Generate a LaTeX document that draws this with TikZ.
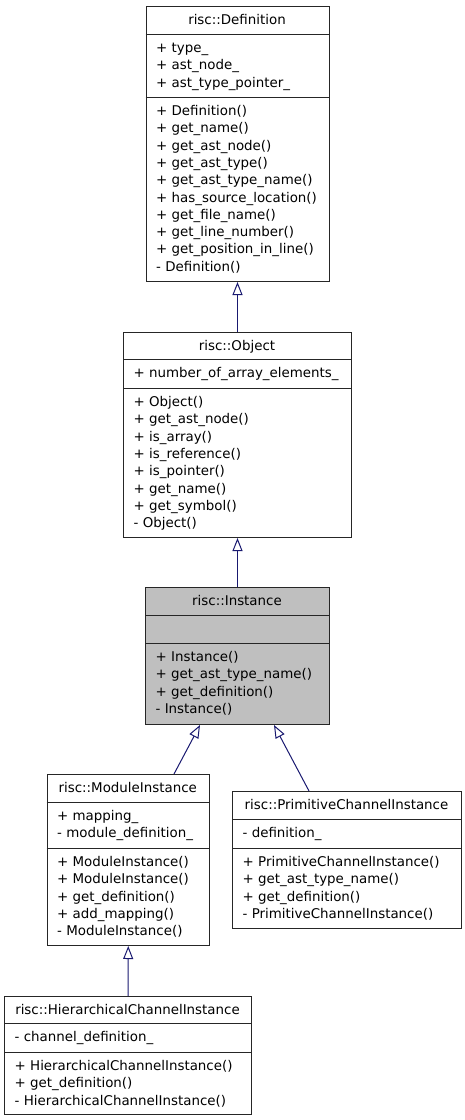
\documentclass[tikz,border=0pt]{standalone}
\usepackage{fontspec}
\setmainfont{DejaVu Sans}
\usetikzlibrary{arrows.meta,calc}
\definecolor{edgeblue}{HTML}{191970}
\definecolor{boxgray}{HTML}{BFBFBF}
% #1 name prefix, #2 x, #3 section top y, #4 list of rows
\newcommand{\umlrows}[4]{\foreach \t [count=\i from 0] in {#4} {\node[row] (#1-\i) at (#2, #3+18.5+17.3*\i) {\t};}}
\begin{document}
\begin{tikzpicture}[x=1pt,y=-1pt,
  font=\fontsize{13.4}{17.4}\selectfont,
  box/.style={draw=black!85, line width=1pt, inner sep=0pt, anchor=north west},
  divider/.style={draw=black!85, line width=1pt},
  row/.style={anchor=base west, inner sep=0pt},
  ttl/.style={anchor=base, inner sep=0pt},
  inh/.style={draw=edgeblue, line width=1pt, -{Triangle[open, length=13pt, width=10pt, fill=white]}}]
\useasboundingbox (0,0) rectangle (465,1120);

% risc::Definition
\node[box, minimum width=183pt, minimum height=275pt] (def) at (145.5,6) {};
\draw[divider] (145.5,34) -- (328.5,34);
\draw[divider] (145.5,97) -- (328.5,97);
\node[ttl] (def-t) at (237,24.5) {risc::Definition};
\umlrows{defa}{156}{34}{+ type\_, + ast\_node\_, + ast\_type\_pointer\_}
\umlrows{defm}{156}{97}{+ Definition(), + get\_name(), + get\_ast\_node(), + get\_ast\_type(), + get\_ast\_type\_name(), + has\_source\_location(), + get\_file\_name(), + get\_line\_number(), + get\_position\_in\_line(), - Definition()}

% risc::Object
\node[box, minimum width=228pt, minimum height=205pt] (obj) at (123,332) {};
\draw[divider] (123,359) -- (351,359);
\draw[divider] (123,388) -- (351,388);
\node[ttl] (obj-t) at (237,350) {risc::Object};
\umlrows{obja}{133.5}{359}{+ number\_of\_array\_elements\_}
\umlrows{objm}{133.5}{388}{+ Object(), + get\_ast\_node(), + is\_array(), + is\_reference(), + is\_pointer(), + get\_name(), + get\_symbol(), - Object()}

% risc::Instance
\node[box, fill=boxgray, minimum width=184pt, minimum height=137pt] (inst) at (145,587) {};
\draw[divider] (145,615) -- (329,615);
\draw[divider] (145,643) -- (329,643);
\node[ttl] (inst-t) at (237,605.5) {risc::Instance};
\umlrows{instm}{155.5}{643}{+ Instance(), + get\_ast\_type\_name(), + get\_definition(), - Instance()}

% risc::ModuleInstance
\node[box, minimum width=162.5pt, minimum height=171pt] (mod) at (46.5,774) {};
\draw[divider] (46.5,802) -- (209,802);
\draw[divider] (46.5,848) -- (209,848);
\node[ttl] (mod-t) at (127.75,792.5) {risc::ModuleInstance};
\umlrows{moda}{57}{802}{+ mapping\_, - module\_definition\_}
\umlrows{modm}{57}{848}{+ ModuleInstance(), + ModuleInstance(), + get\_definition(), + add\_mapping(), - ModuleInstance()}

% risc::PrimitiveChannelInstance
\node[box, minimum width=229pt, minimum height=137pt] (prim) at (232,791) {};
\draw[divider] (232,819) -- (461,819);
\draw[divider] (232,848) -- (461,848);
\node[ttl] (prim-t) at (346.5,809.5) {risc::PrimitiveChannelInstance};
\umlrows{prima}{242.5}{819}{- definition\_}
\umlrows{primm}{242.5}{848}{+ PrimitiveChannelInstance(), + get\_ast\_type\_name(), + get\_definition(), - PrimitiveChannelInstance()}

% risc::HierarchicalChannelInstance
\node[box, minimum width=247pt, minimum height=118pt] (hier) at (4,996) {};
\draw[divider] (4,1023) -- (251,1023);
\draw[divider] (4,1052) -- (251,1052);
\node[ttl] (hier-t) at (127.5,1014) {risc::HierarchicalChannelInstance};
\umlrows{hiera}{14.5}{1023}{- channel\_definition\_}
\umlrows{hierm}{14.5}{1052}{+ HierarchicalChannelInstance(), + get\_definition(), - HierarchicalChannelInstance()}

% inheritance edges
\draw[inh] (obj.north) -- (def.south);
\draw[inh] (inst.north) -- (obj.south);
\coordinate (modtop) at ($(mod.north west)+(127.5,0)$);
\coordinate (instbl) at ($(inst.south west)+(55,0)$);
\draw[inh] (modtop) -- (instbl);
\coordinate (primtop) at ($(prim.north west)+(77,0)$);
\coordinate (instbr) at ($(inst.south west)+(129,0)$);
\draw[inh] (primtop) -- (instbr);
\draw[inh] (hier.north) -- (mod.south);
\end{tikzpicture}
\end{document}
